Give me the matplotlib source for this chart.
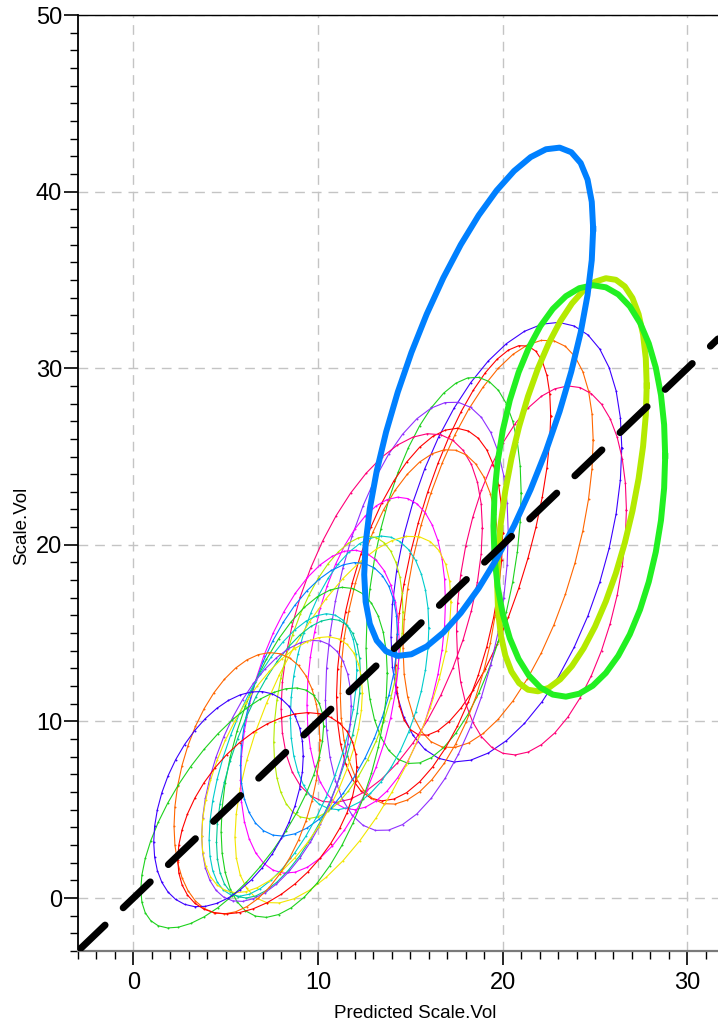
import numpy as np
import matplotlib
matplotlib.use("Agg")
import matplotlib.pyplot as plt

plt.rcParams['font.family'] = ['Liberation Sans', 'DejaVu Sans']

# Density ellipses per group: centre, half extent along x and y, correlation
center_x = [20.2, 19.75, 18.4, 16.8, 22.1, 15.35, 15.5, 13.45, 15.5,
            13.15, 12.25, 11.35, 11.1, 10.1, 10.05, 9.25,
            8.1, 8.4, 7.75, 8.05, 6.15, 5.35, 5.15, 7.25,
            23.75, 24.15, 18.7]
center_y = [20.15, 20.05, 20.25, 18.55, 18.55, 15.95, 16.05, 15.85, 15.35,
            13.85, 12.75, 10.1, 12.5, 10.55, 11.25, 8.25,
            8.1, 7.9, 7.2, 7.55, 6.5, 5.1, 5.6, 4.8,
            23.4, 23.05, 28.1]
half_x = [6.25, 5.15, 4.2, 4.2, 4.6, 4.95, 4.5, 5.45, 4.3,
          3.75, 3.75, 5.85, 3.5, 4.3, 4.25, 4.5,
          4.0, 3.9, 4.05, 4.35, 3.95, 4.95, 4.05, 4.85,
          4.05, 4.65, 6.2]
half_y = [12.45, 11.55, 11.05, 10.95, 10.45, 12.15, 10.55, 10.45, 10.05,
          8.85, 7.75, 10.4, 8.0, 9.15, 7.75, 9.35,
          8.0, 7.9, 7.4, 7.25, 7.4, 6.8, 6.1, 5.7,
          11.7, 11.65, 14.4]
corr = [0.43, 0.51, 0.64, 0.40, 0.33, 0.39, 0.44, 0.49, 0.37,
        0.33, 0.33, 0.64, 0.46, 0.42, 0.48, 0.48,
        0.60, 0.60, 0.50, 0.56, 0.33, 0.68, 0.40, 0.46,
        0.48, 0.17, 0.68]

RED, GREEN, BLUE, ORANGE = '#ff0000', '#1ed21e', '#3c00ff', '#ff6600'
TEAL, PURPLE, YELLOW, CYAN = '#00c896', '#9030ff', '#f2e600', '#00cccc'
MAGENTA, YGREEN, BCYAN, FUCHSIA = '#ff00ff', '#b4ea00', '#0080ff', '#ff0078'

colors = [BLUE, ORANGE, RED, GREEN, FUCHSIA, PURPLE, RED, FUCHSIA, ORANGE,
          MAGENTA, CYAN, YELLOW, YGREEN, MAGENTA, BCYAN, GREEN,
          CYAN, TEAL, PURPLE, YELLOW, ORANGE, GREEN, BLUE, RED,
          YGREEN, '#22f022', BCYAN]
widths = [0.8] * 24 + [4.3, 4.3, 4.3]

x_ticks = [0, 10, 20, 30]
y_ticks = [0, 10, 20, 30, 40, 50]

W, H = 718, 1028
fig = plt.figure(figsize=(W / 100, H / 100), dpi=100)
ax = fig.add_axes([78 / W, 1 - 951 / H, (718 - 78) / W, (951 - 15) / H])
ax.set_xlim(-3, 31.66)
ax.set_ylim(-3, 50)

# grid
ax.set_xticks(x_ticks)
ax.set_yticks(y_ticks)
ax.set_xticks(np.arange(-3, 32, 1), minor=True)
ax.set_yticks(np.arange(-3, 51, 1), minor=True)
ax.grid(True, which='major', color='#c4c4c4', linestyle=(0, (7, 5)), linewidth=1.0)
ax.set_axisbelow(True)

t = np.linspace(0, 2 * np.pi, 41)
for cx, cy, hx, hy, r, c, lw in zip(center_x, center_y, half_x, half_y, corr, colors, widths):
    phase = np.arccos(r)
    xs = cx + hx * np.cos(t)
    ys = cy + hy * np.cos(t - phase)
    if lw < 1.5:
        ax.plot(xs, ys, color=c, lw=lw, marker='o', markersize=1.4,
                markeredgewidth=0, zorder=2)
    else:
        ax.plot(xs, ys, color=c, lw=lw, solid_joinstyle='round', zorder=3)

# identity line
lim = np.array([-3, 31.66])
ax.plot(lim, lim, color='black', lw=5, dashes=(5.4, 3.6),
        dash_capstyle='round', zorder=4)

ax.spines['right'].set_visible(False)
ax.spines['top'].set_linewidth(1.0)
ax.spines['left'].set_linewidth(1.3)
ax.spines['bottom'].set_linewidth(1.6)
ax.spines['bottom'].set_color('#7a7a7a')

ax.tick_params(axis='both', which='major', length=10, width=1.2, labelsize=17,
               direction='out', color='black')
ax.tick_params(axis='both', which='minor', length=6, width=1.0,
               direction='out', color='black')
ax.tick_params(axis='x', which='major', pad=5)
ax.tick_params(axis='y', which='major', pad=1.5)

fig.text(415 / W, 1 - 1013 / H, 'Predicted Scale.Vol', ha='center', va='center',
         fontsize=13.5)
fig.text(22 / W, 1 - 526 / H, 'Scale.Vol', ha='center', va='center',
         rotation=90, fontsize=13.5)

fig.savefig('out.png', dpi=100)
